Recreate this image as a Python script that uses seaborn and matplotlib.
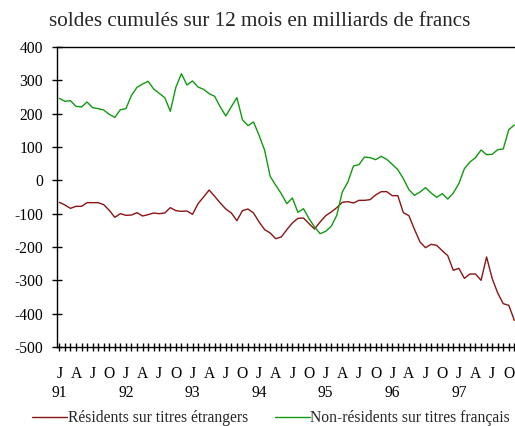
import numpy as np
import pandas as pd
import matplotlib
matplotlib.use("Agg")
import matplotlib.pyplot as plt
import seaborn as sns

title = "soldes cumulés sur 12 mois en milliards de francs"
series_names = ["Résidents sur titres étrangers", "Non-résidents sur titres français"]
years = ["91", "92", "93", "94", "95", "96", "97"]
quarter_letters = ["J", "A", "J", "O"]
y_ticks = [-500, -400, -300, -200, -100, 0, 100, 200, 300, 400]

# monthly values, January 1991 .. November 1997
residents = [-66, -74, -84, -78, -78, -67, -67, -67, -73, -90, -111, -100,
             -105, -104, -97, -107, -103, -98, -100, -98, -82, -91, -93, -92,
             -102, -70, -50, -29, -48, -68, -86, -98, -121, -91, -86, -98,
             -125, -148, -158, -175, -170, -148, -128, -114, -113, -130, -146, -125,
             -106, -95, -82, -66, -64, -68, -60, -60, -58, -44, -34, -34,
             -46, -46, -97, -106, -147, -185, -202, -192, -195, -211, -226, -270,
             -264, -294, -281, -281, -300, -230, -294, -338, -370, -375, -420]
non_residents = [246, 237, 239, 222, 220, 235, 218, 215, 211, 198, 189, 212,
                 215, 255, 279, 289, 297, 274, 261, 248, 207, 279, 320, 286,
                 298, 280, 273, 260, 252, 220, 193, 221, 248, 182, 164, 175,
                 135, 90, 12, -15, -40, -70, -53, -96, -85, -115, -140, -160,
                 -153, -138, -105, -35, -5, 43, 47, 70, 68, 62, 72, 63,
                 48, 32, 5, -28, -45, -35, -22, -38, -51, -40, -56, -38,
                 -10, 35, 55, 68, 91, 77, 78, 92, 94, 152, 166]

months = list(range(len(residents)))
df = pd.DataFrame({"mois": months, series_names[0]: residents, series_names[1]: non_residents})

sns.set_style("white")
plt.rcParams["font.family"] = ["Liberation Serif", "DejaVu Serif"]

W, H = 515, 426
fig = plt.figure(figsize=(W / 100, H / 100), dpi=100)
ax = fig.add_axes([57 / W, 1 - 347 / H, (515 - 57) / W, 300 / H])

colors = ["#8b1414", "#109a10"]
for name, c in zip(series_names, colors):
    sns.lineplot(data=df, x="mois", y=name, ax=ax, color=c, linewidth=1.0, label=name)

ax.set_xlim(-0.42, 82.12)
ax.set_ylim(-500, 400)
ax.set_yticks(y_ticks)
ax.set_yticklabels([str(v) for v in y_ticks])

major = list(range(0, len(months) - 1, 3))
labels = []
for m in major:
    q = (m % 12) // 3
    lab = quarter_letters[q]
    if m % 12 == 0:
        lab = lab + "\n" + years[m // 12]
    labels.append(lab)
ax.set_xticks(major)
ax.set_xticklabels(labels, linespacing=1.25)
ax.set_xticks(months, minor=True)

FS = 11.25
ax.tick_params(axis="y", which="major", direction="inout", length=7, width=1, pad=6.5,
               labelsize=FS, color="black", labelcolor="black", left=True)
ax.tick_params(axis="x", which="both", direction="inout", length=6, width=1, pad=10.5,
               labelsize=FS, color="black", labelcolor="black", bottom=True)
ax.set_xlabel("")
ax.set_ylabel("")

for s in ["left", "bottom", "top"]:
    ax.spines[s].set_visible(True)
    ax.spines[s].set_color("black")
    ax.spines[s].set_linewidth(1.0)
ax.spines["right"].set_visible(False)

ax.get_legend().remove()
handles, lbls = ax.get_legend_handles_labels()
fig.legend(handles, lbls, loc="center", bbox_to_anchor=(271 / W, 1 - 418 / H), ncol=2,
           frameon=False, fontsize=FS, handlelength=2.25, handletextpad=0.05,
           columnspacing=1.7, borderpad=0)

fig.text(260 / W, 1 - 22 / H, title, ha="center", va="center", fontsize=15.2)

fig.savefig("out.png", dpi=100, facecolor="white")
